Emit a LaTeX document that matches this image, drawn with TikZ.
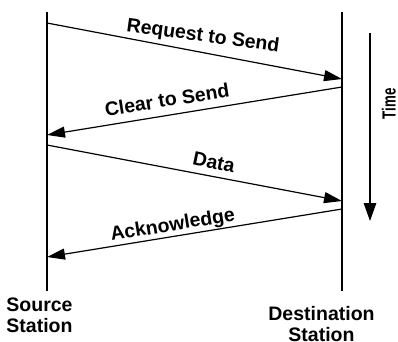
\documentclass[tikz,border=0pt]{standalone}
\usepackage{fontspec}
\setmainfont{Liberation Sans}
\usetikzlibrary{arrows.meta, positioning}

\tikzset{
  lifeline/.style={line width=1.3pt, color=black},
  station/.style={
    inner sep=0pt,
    font=\fontsize{19.5}{21.5}\selectfont\bfseries,
  },
  msg/.style={-{Triangle[length=18pt, width=11pt]}, line width=1.2pt},
  msglabel/.style={
    inner sep=0pt, text depth=0pt, sloped,
    font=\fontsize{19.5}{21.5}\selectfont\bfseries,
  },
  timearrow/.style={-{Triangle[length=18pt, width=12.5pt]}, line width=1.4pt},
}

\begin{document}
\begin{tikzpicture}[x=1pt, y=-1pt]
  \useasboundingbox (0,0) rectangle (398,341);

  % lifelines of the two stations
  \coordinate (srctop) at (47,12);
  \coordinate (srcbot) at (47,291);
  \coordinate (dsttop) at (342,12);
  \coordinate (dstbot) at (342,291);
  \draw[lifeline] (srctop) -- (srcbot);
  \draw[lifeline] (dsttop) -- (dstbot);

  \node[station, align=left, below=6.5pt of srcbot, xshift=-7.5pt] (srclbl) {Source\\Station};
  \node[station, align=center, below=15pt of dstbot, xshift=-20.5pt] (dstlbl) {Destination\\Station};

  % frame exchange end points
  \coordinate (s1) at (47,23);
  \coordinate (d1) at (342,79);
  \coordinate (d2) at (342,87);
  \coordinate (s2) at (47,135);
  \coordinate (s3) at (47,145);
  \coordinate (d3) at (342,201);
  \coordinate (d4) at (342,209);
  \coordinate (s4) at (47,257);

  \draw[msg] (s1) -- node[msglabel, pos=.52, above=10pt, rotate=3] (rtslbl) {Request to Send} (d1);
  \draw[msg] (d2) -- node[msglabel, pos=.585, above=8pt] (ctslbl) {Clear to Send} (s2);
  \draw[msg] (s3) -- node[msglabel, pos=.556, above=7pt, rotate=-1.3] (datalbl) {Data} (d3);
  \draw[msg] (d4) -- node[msglabel, pos=.568, above=5pt] (acklbl) {Acknowledge} (s4);

  % time axis
  \coordinate (t0) at (370,33);
  \coordinate (t1) at (370,221);
  \draw[timearrow] (t0) -- (t1);
  \node[rotate=90, anchor=base, inner sep=0pt] (timelbl) at (395.5,104)
    {\fontsize{19}{21}\selectfont\bfseries\scalebox{0.7}[1]{Time}};

\end{tikzpicture}
\end{document}
